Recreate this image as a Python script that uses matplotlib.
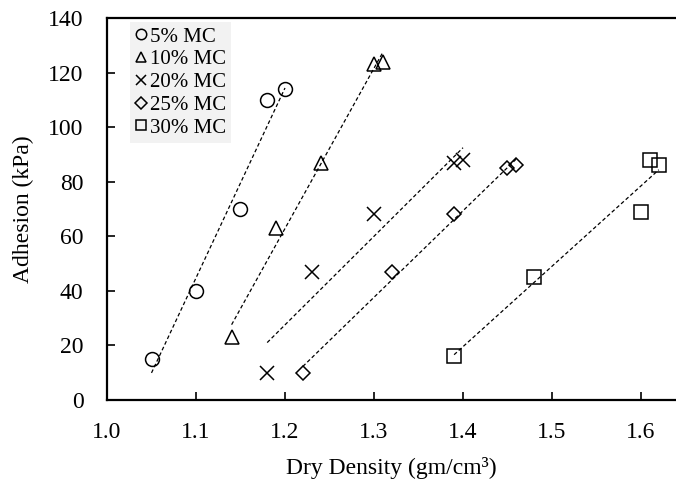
import numpy as np
import matplotlib
matplotlib.use("Agg")
import matplotlib.pyplot as plt

# Dry density (gm/cm3) vs adhesion (kPa) for each moisture content
mc_labels = ["5% MC", "10% MC", "20% MC", "25% MC", "30% MC"]
density_5 = [1.05, 1.10, 1.15, 1.18, 1.20]
adhesion_5 = [15, 40, 70, 110, 114]
density_10 = [1.14, 1.19, 1.24, 1.30, 1.31]
adhesion_10 = [23, 63, 87, 123, 124]
density_20 = [1.18, 1.23, 1.30, 1.39, 1.40]
adhesion_20 = [10, 47, 68, 87, 88]
density_25 = [1.22, 1.32, 1.39, 1.45, 1.46]
adhesion_25 = [10, 47, 68, 85, 86]
density_30 = [1.39, 1.48, 1.60, 1.61, 1.62]
adhesion_30 = [16, 45, 69, 88, 86]

x_ticks = [1.0, 1.1, 1.2, 1.3, 1.4, 1.5, 1.6]
y_ticks = [0, 20, 40, 60, 80, 100, 120, 140]

series = [
    (density_5, adhesion_5, "o", 10),
    (density_10, adhesion_10, "^", 10),
    (density_20, adhesion_20, "x", 10),
    (density_25, adhesion_25, "D", 7.5),
    (density_30, adhesion_30, "s", 10),
]

plt.rcParams["font.family"] = ["Liberation Serif", "DejaVu Serif"]

fig = plt.figure(figsize=(6.76, 4.93), dpi=100)
ax = fig.add_axes([107 / 676, 1 - 400 / 493, 1 - 107 / 676, (400 - 18) / 493])

for (xs, ys, mk, ms), lab in zip(series, mc_labels):
    xs = np.asarray(xs)
    ys = np.asarray(ys)
    ax.plot(xs, ys, linestyle="none", marker=mk, markersize=ms,
            markerfacecolor="none", markeredgecolor="black",
            markeredgewidth=1.1, color="black", label=lab)
    # least-squares trend line over the data range
    slope, intercept = np.polyfit(xs, ys, 1)
    xr = np.array([xs.min(), xs.max()])
    ax.plot(xr, slope * xr + intercept, linestyle=(0, (3, 2)),
            color="black", linewidth=0.9)

ax.set_xlim(1.0, 1.0 + (676 - 107) / 890)
ax.set_ylim(0, 140)
ax.set_xticks(x_ticks)
ax.set_xticklabels([f"{v:.1f}" for v in x_ticks])
ax.set_yticks(y_ticks)

ax.spines["right"].set_visible(False)
for side in ("left", "bottom", "top"):
    ax.spines[side].set_linewidth(1.6)

ax.tick_params(axis="both", direction="in", length=5.5, width=1.2,
               labelsize=17)
ax.tick_params(axis="x", pad=16)
ax.tick_params(axis="y", pad=17)

ax.set_xlabel("Dry Density (gm/cm³)", fontsize=17, labelpad=10)
ax.set_ylabel("Adhesion (kPa)", fontsize=17, labelpad=10)

leg = ax.legend(loc="upper left", bbox_to_anchor=(23 / 569, 1 - 4 / 382),
                frameon=True, fancybox=False, fontsize=15,
                handlelength=0.55, handletextpad=0.15, labelspacing=0.15,
                borderpad=0.25, borderaxespad=0.0, markerscale=0.75)
leg.get_frame().set_facecolor("#f2f2f2")
leg.get_frame().set_edgecolor("none")
leg.get_frame().set_alpha(1.0)

fig.savefig("out.png", dpi=100)
